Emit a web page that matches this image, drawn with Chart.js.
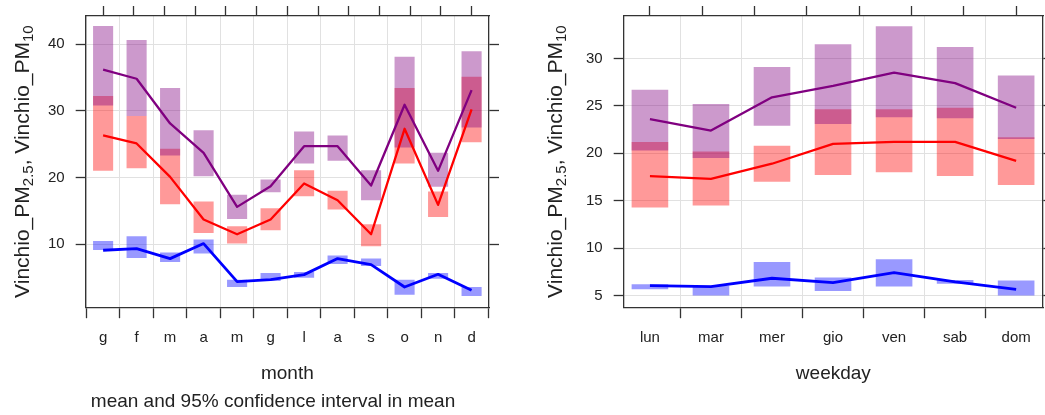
<!DOCTYPE html>
<html>
<head>
<meta charset="utf-8">
<title>Vinchio PM2.5 / PM10 — mese e giorno della settimana</title>
<script src="https://cdn.jsdelivr.net/npm/chart.js@4.4.1/dist/chart.umd.min.js"></script>
<style>
  html, body { margin: 0; padding: 0; background: #fff; overflow: hidden; }
  #wrap { position: relative; width: 1045px; height: 415px; overflow: hidden; }
  canvas { position: absolute; top: 0; }
  #chart-month { left: 0; }
  #chart-weekday { left: 525px; }
</style>
</head>
<body>
<div id="wrap">
  <canvas id="chart-month" width="520" height="415"></canvas>
  <canvas id="chart-weekday" width="530" height="415"></canvas>
</div>
<script>
// ---- monthly means and 95% CI ----
const months = ["g", "f", "m", "a", "m", "g", "l", "a", "s", "o", "n", "d"];

const monPm10 = [36.15, 34.8, 28.1, 23.7, 15.6, 18.7, 24.7, 24.7, 18.8, 30.9, 21.0, 33.1];
const monPm10Lo = [30.8, 29.2, 23.3, 20.2, 13.8, 17.8, 22.1, 22.5, 16.6, 24.5, 18.6, 27.5];
const monPm10Hi = [42.7, 40.6, 33.4, 27.1, 17.4, 19.7, 26.9, 26.3, 21.1, 38.1, 23.7, 38.9];

const monPm25 = [26.3, 25.1, 20.1, 13.7, 11.5, 13.7, 19.1, 16.6, 11.5, 27.3, 15.9, 30.2];
const monPm25Lo = [21.0, 21.4, 16.0, 11.7, 10.1, 12.1, 17.2, 15.2, 9.7, 22.1, 14.1, 25.3];
const monPm25Hi = [32.2, 29.2, 24.3, 16.4, 12.7, 15.4, 21.1, 18.0, 13.0, 33.4, 17.9, 35.1];

const monCoarse = [9.1, 9.35, 7.85, 10.1, 4.4, 4.7, 5.45, 7.85, 6.95, 3.6, 5.5, 3.1];
const monCoarseLo = [9.15, 7.95, 7.35, 8.6, 3.6, 4.5, 5.0, 7.05, 6.75, 2.45, 4.85, 2.25];
const monCoarseHi = [10.5, 11.2, 8.75, 10.7, 4.7, 5.7, 5.85, 8.3, 7.85, 4.7, 5.7, 3.6];

const monTicks = [10, 20, 30, 40];

// ---- weekday means and 95% CI ----
const weekdays = ["lun", "mar", "mer", "gio", "ven", "sab", "dom"];

const dayPm10 = [23.6, 22.4, 25.9, 27.1, 28.5, 27.4, 24.8];
const dayPm10Lo = [20.3, 19.5, 22.9, 23.1, 23.8, 23.7, 21.5];
const dayPm10Hi = [26.7, 25.2, 29.1, 31.5, 33.4, 31.2, 28.2];

const dayPm25 = [17.6, 17.3, 18.9, 21.0, 21.2, 21.2, 19.2];
const dayPm25Lo = [14.3, 14.5, 17.0, 17.7, 18.0, 17.6, 16.65];
const dayPm25Hi = [21.2, 20.2, 20.8, 24.65, 24.65, 24.8, 21.7];

const dayCoarse = [6.05, 5.95, 6.83, 6.37, 7.42, 6.45, 5.67];
const dayCoarseLo = [5.67, 5.0, 5.95, 5.5, 5.95, 6.25, 5.0];
const dayCoarseHi = [6.2, 6.05, 8.55, 6.9, 8.83, 6.65, 6.6];

const dayTicks = [5, 10, 15, 20, 25, 30];

const FONT = '"Liberation Sans", Arial, sans-serif';
const INK = "#222";
const FRAME = "#333";
const GRID = "#e1e1e1";

Chart.defaults.font.family = FONT;
Chart.defaults.color = INK;

const COLORS = {
  pm10: { line: "#800080", band: "rgba(128,0,128,0.4)" },
  pm25: { line: "#ff0000", band: "rgba(255,0,0,0.4)" },
  coarse: { line: "#0000ff", band: "rgba(0,0,255,0.4)" },
};

// y-axis title with subscripts, drawn rotated left of the plot
const yTitleParts = [
  { text: "Vinchio_PM" },
  { text: "2.5", sub: true },
  { text: ", Vinchio_PM" },
  { text: "10", sub: true },
];

const richYTitle = {
  id: "richYTitle",
  afterDraw(chart, args, opts) {
    const { ctx, chartArea } = chart;
    const main = `${opts.size}px ${FONT}`;
    const small = `${opts.subSize}px ${FONT}`;
    ctx.save();
    let total = 0;
    yTitleParts.forEach((p) => {
      ctx.font = p.sub ? small : main;
      total += ctx.measureText(p.text).width;
    });
    ctx.translate(opts.x, (chartArea.top + chartArea.bottom) / 2);
    ctx.rotate(-Math.PI / 2);
    ctx.fillStyle = INK;
    ctx.textBaseline = "alphabetic";
    let x = -total / 2;
    yTitleParts.forEach((p) => {
      ctx.font = p.sub ? small : main;
      ctx.fillText(p.text, x, p.sub ? opts.subShift : 0);
      x += ctx.measureText(p.text).width;
    });
    ctx.restore();
  },
};

// free caption line under the month panel
const caption = {
  id: "caption",
  afterDraw(chart, args, opts) {
    if (!opts.text) return;
    const { ctx } = chart;
    ctx.save();
    ctx.font = `${opts.size}px ${FONT}`;
    ctx.fillStyle = INK;
    ctx.textAlign = "center";
    ctx.textBaseline = "middle";
    ctx.fillText(opts.text, opts.x, opts.y);
    ctx.restore();
  },
};

function band(lo, hi, color, order) {
  return {
    type: "bar",
    data: lo.map((v, i) => ({ x: i, y: [v, hi[i]] })),
    backgroundColor: color,
    borderWidth: 0,
    grouped: false,
    barPercentage: 0.6,
    categoryPercentage: 1.0,
    order,
  };
}

function meanLine(values, color, width) {
  return {
    type: "line",
    data: values.map((v, i) => ({ x: i, y: v })),
    borderColor: color,
    borderWidth: width,
    pointRadius: 0,
    tension: 0,
    fill: false,
    borderJoinStyle: "round",
    order: 1,
  };
}

function panel(canvasId, cfg) {
  const fixTicks = (values) => (axis) => {
    axis.ticks = values.map((v) => ({ value: v }));
  };
  // tick labels sit well inside the frame, so no extra room above/below
  const noLabelOverhang = (axis) => {
    axis.paddingTop = 0;
    axis.paddingBottom = 0;
  };
  const catIdx = cfg.labels.map((_, i) => i);
  const frame = { display: true, color: FRAME, width: 1.3 };

  return new Chart(document.getElementById(canvasId), {
    type: "bar",
    data: {
      datasets: [
        band(cfg.coarseLo, cfg.coarseHi, COLORS.coarse.band, 5),
        band(cfg.pm25Lo, cfg.pm25Hi, COLORS.pm25.band, 4),
        band(cfg.pm10Lo, cfg.pm10Hi, COLORS.pm10.band, 3),
        meanLine(cfg.coarse, COLORS.coarse.line, 2.8),
        meanLine(cfg.pm25, COLORS.pm25.line, 2.3),
        meanLine(cfg.pm10, COLORS.pm10.line, 2.3),
      ],
    },
    options: {
      responsive: false,
      animation: false,
      devicePixelRatio: 1,
      layout: { padding: cfg.padding },
      plugins: {
        legend: { display: false },
        tooltip: { enabled: false },
        richYTitle: { x: cfg.yTitleX, size: 21, subSize: 15, subShift: 4 },
        caption: cfg.caption || {},
      },
      scales: {
        x: {
          type: "linear",
          min: cfg.xMin,
          max: cfg.xMax,
          offset: false,
          afterBuildTicks: fixTicks(catIdx),
          ticks: {
            padding: 11,
            font: { size: 15 },
            color: INK,
            maxRotation: 0,
            callback: (v) => cfg.labels[v],
          },
          grid: { color: GRID, lineWidth: 1, tickLength: 11, tickColor: FRAME, tickWidth: 1.3 },
          border: frame,
          title: {
            display: true,
            text: cfg.xTitle,
            font: { size: 19 },
            color: INK,
            padding: { top: 4, bottom: 0 },
          },
        },
        xTop: {
          type: "linear",
          position: "top",
          min: cfg.xMin,
          max: cfg.xMax,
          afterBuildTicks: fixTicks(catIdx),
          ticks: { display: false },
          grid: { drawOnChartArea: false, tickLength: 10, tickColor: FRAME, tickWidth: 1.3 },
          border: frame,
        },
        y: {
          min: cfg.yMin,
          max: cfg.yMax,
          afterBuildTicks: fixTicks(cfg.yTicks),
          afterFit: noLabelOverhang,
          ticks: { padding: 11, font: { size: 15 }, color: INK },
          grid: { color: GRID, lineWidth: 1, tickLength: 10, tickColor: FRAME, tickWidth: 1.3 },
          border: frame,
        },
        yRight: {
          position: "right",
          min: cfg.yMin,
          max: cfg.yMax,
          afterBuildTicks: fixTicks(cfg.yTicks),
          afterFit: noLabelOverhang,
          ticks: { display: false },
          grid: { drawOnChartArea: false, tickLength: 10, tickColor: FRAME, tickWidth: 1.3 },
          border: frame,
        },
      },
    },
    plugins: [richYTitle, caption],
  });
}

panel("chart-month", {
  labels: months,
  pm10: monPm10, pm10Lo: monPm10Lo, pm10Hi: monPm10Hi,
  pm25: monPm25, pm25Lo: monPm25Lo, pm25Hi: monPm25Hi,
  coarse: monCoarse, coarseLo: monCoarseLo, coarseHi: monCoarseHi,
  yTicks: monTicks,
  xMin: -0.52, xMax: 11.52,
  yMin: 0.57, yMax: 44.2,
  xTitle: "month",
  yTitleX: 29,
  padding: { left: 37, right: 21, top: 6, bottom: 30 },
  caption: { text: "mean and 95% confidence interval in mean", x: 273, y: 402, size: 19 },
});

panel("chart-weekday", {
  labels: weekdays,
  pm10: dayPm10, pm10Lo: dayPm10Lo, pm10Hi: dayPm10Hi,
  pm25: dayPm25, pm25Lo: dayPm25Lo, pm25Hi: dayPm25Hi,
  coarse: dayCoarse, coarseLo: dayCoarseLo, coarseHi: dayCoarseHi,
  yTicks: dayTicks,
  xMin: -0.43, xMax: 6.44,
  yMin: 3.78, yMax: 34.47,
  xTitle: "weekday",
  yTitleX: 37,
  padding: { left: 50, right: 2, top: 6, bottom: 30 },
});
</script>
</body>
</html>
